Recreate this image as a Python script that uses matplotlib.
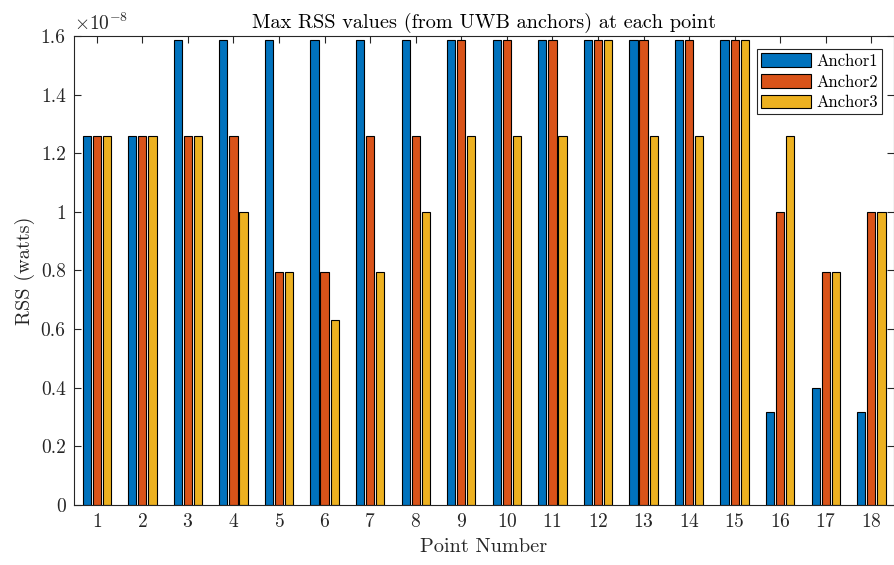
import numpy as np
import matplotlib
matplotlib.use("Agg")
import matplotlib.pyplot as plt
from matplotlib.ticker import FuncFormatter, MultipleLocator

plt.rcParams["font.family"] = "serif"
plt.rcParams["font.serif"] = ["cmr10"]
plt.rcParams["mathtext.fontset"] = "cm"
plt.rcParams["axes.unicode_minus"] = False
plt.rcParams["axes.formatter.use_mathtext"] = True

# Max RSS per point (watts) for each UWB anchor
points = list(range(1, 19))
anchor1 = [1.259e-8, 1.259e-8, 1.585e-8, 1.585e-8, 1.585e-8, 1.585e-8, 1.585e-8, 1.585e-8, 1.585e-8,
           1.585e-8, 1.585e-8, 1.585e-8, 1.585e-8, 1.585e-8, 1.585e-8, 0.316e-8, 0.398e-8, 0.316e-8]
anchor2 = [1.259e-8, 1.259e-8, 1.259e-8, 1.259e-8, 0.794e-8, 0.794e-8, 1.259e-8, 1.259e-8, 1.585e-8,
           1.585e-8, 1.585e-8, 1.585e-8, 1.585e-8, 1.585e-8, 1.585e-8, 1.000e-8, 0.794e-8, 1.000e-8]
anchor3 = [1.259e-8, 1.259e-8, 1.259e-8, 1.000e-8, 0.794e-8, 0.631e-8, 0.794e-8, 1.000e-8, 1.259e-8,
           1.259e-8, 1.259e-8, 1.585e-8, 1.259e-8, 1.259e-8, 1.585e-8, 1.259e-8, 0.794e-8, 1.000e-8]
series_names = ["Anchor1", "Anchor2", "Anchor3"]
colors = ["#0072BD", "#D95319", "#EDB120"]

fig = plt.figure(figsize=(8.95, 5.65), dpi=100)
ax = fig.add_axes([0.0827, 0.1062, 0.9163, 0.8301])

x = np.array(points, dtype=float)
offset = 0.222
width = 0.18
for i, (vals, name, col) in enumerate(zip([anchor1, anchor2, anchor3], series_names, colors)):
    ax.bar(x + (i - 1) * offset, vals, width=width, color=col, edgecolor="black",
           linewidth=0.8, label=name, zorder=2)

ax.set_xlim(0.5, 18.5)
ax.set_ylim(0, 1.6e-8)
ax.set_xticks(points)
ax.yaxis.set_major_locator(MultipleLocator(0.2e-8))
ax.yaxis.set_major_formatter(FuncFormatter(lambda v, p: "%g" % round(v / 1e-8, 3)))
ax.text(0.0, 1.004, r"$\times10^{-8}$", transform=ax.transAxes, fontsize=14,
        ha="left", va="bottom", color="#262626")

ax.tick_params(direction="in", top=True, right=True, length=5, width=0.8,
               colors="#262626", labelsize=14, pad=6)
for s in ax.spines.values():
    s.set_color("#262626")
    s.set_linewidth(0.8)

ax.set_title("Max RSS values (from UWB anchors) at each point", fontsize=14.6, color="#000000", pad=6)
ax.set_xlabel("Point Number", fontsize=14.6, color="#262626", labelpad=5)
ax.set_ylabel("RSS (watts)", fontsize=14.6, color="#262626")

leg = ax.legend(loc="upper right", bbox_to_anchor=(0.9855, 0.972), borderaxespad=0.0,
                fontsize=12, fancybox=False, edgecolor="#262626", framealpha=1,
                borderpad=0.25, handlelength=3.0, handleheight=0.9, handletextpad=0.3,
                labelspacing=0.3)
leg.get_frame().set_linewidth(0.8)

fig.savefig("out.png", dpi=100)
